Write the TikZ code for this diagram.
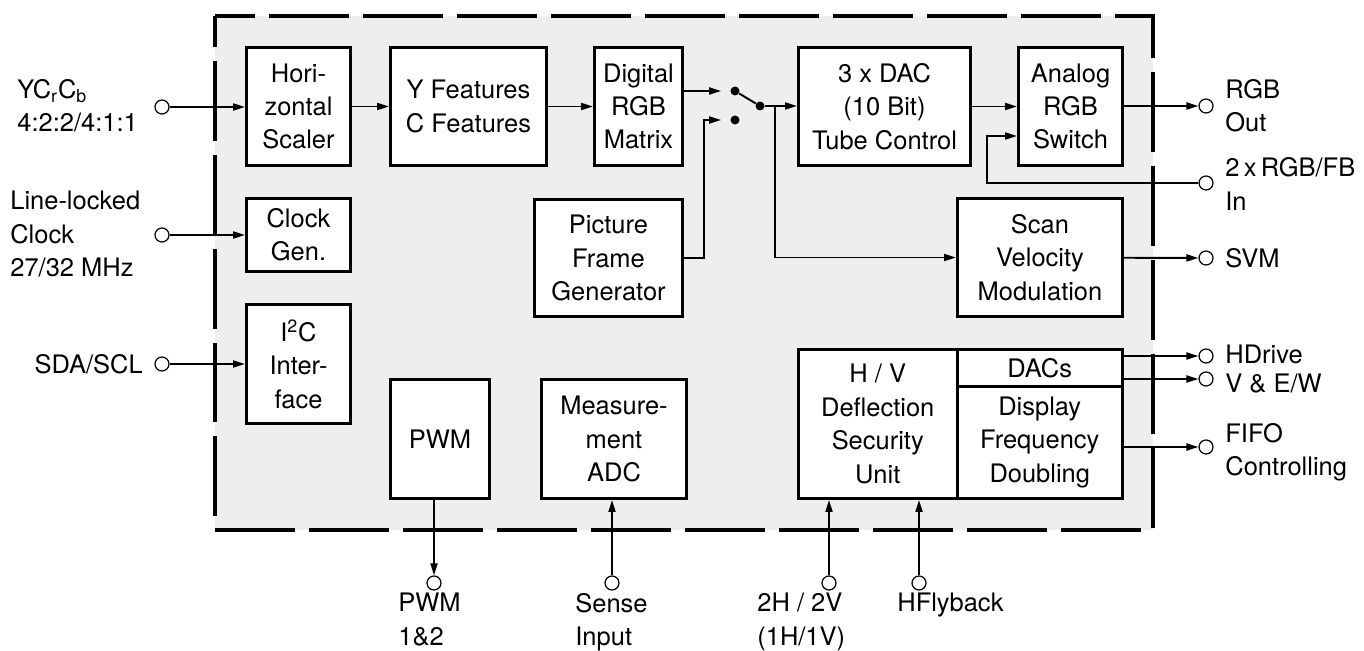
\documentclass[tikz,border=0pt]{standalone}
\usepackage{fontspec}
\setmainfont{TeX Gyre Heros}
\usetikzlibrary{arrows.meta}
\definecolor{chipgray}{HTML}{EEEEEE}

\begin{document}
\begin{tikzpicture}[x = 0.02cm, y = -0.02cm,
		font = \fontsize{14.5}{19}\selectfont,
		block/.style = {draw, line width = 1.7pt, fill = white, align = center, inner sep = 0pt},
		port/.style = {draw, circle, fill = white, line width = 0.7pt, minimum size = 0.28cm, inner sep = 0pt},
		swdot/.style = {circle, fill = black, minimum size = 0.18cm, inner sep = 0pt},
		wire/.style = {line width = 1.1pt, -{Triangle[length = 0.24cm, width = 0.14cm]}},
		pinname/.style = {align = left, inner sep = 0pt}]
					\useasboundingbox (0, 0) rectangle (1364, 651);

					\coordinate (c1) at (215, 16);
					\coordinate (c2) at (1153, 16);
					\coordinate (c3) at (1153, 530);
					\coordinate (c4) at (215, 530);

					\coordinate (brk) at (775, 106);
					\coordinate (pfgk) at (704, 120);
					\coordinate (fbk) at (987, 183);
					\coordinate (fbt) at (1017, 136);

					\fill [chipgray] (c1) rectangle (c3);
					\draw [line width = 2.3pt, dash pattern = on 1.6cm off 0.28cm, dash phase = 0.8cm] (c1) -- (c2) -- (c3) -- (c4) -- cycle;

					\node [block, minimum width = 2.08cm, minimum height = 2.36cm] (hsc) at (298.5, 106.5) {Hori-\\zontal\\Scaler};
					\node [block, minimum width = 3.12cm, minimum height = 2.36cm] (feat) at (468.5, 106.5) {Y Features\\C Features};
					\node [block, minimum width = 1.76cm, minimum height = 2.36cm] (rgbm) at (638.5, 106.5) {Digital\\RGB\\Matrix};
					\node [block, minimum width = 3.44cm, minimum height = 2.36cm] (dac) at (884.5, 106.5) {3 x DAC\\(10 Bit)\\Tube Control};
					\node [block, minimum width = 2.08cm, minimum height = 2.36cm] (asw) at (1070.5, 106.5) {Analog\\RGB\\Switch};
					\node [block, minimum width = 2.08cm, minimum height = 1.46cm] (clk) at (298.5, 235) {Clock\\Gen.};
					\node [block, minimum width = 2.96cm, minimum height = 2.34cm] (pfg) at (608.5, 258) {Picture\\Frame\\Generator};
					\node [block, minimum width = 3.30cm, minimum height = 2.36cm] (svm) at (1040, 257.5) {Scan\\Velocity\\Modulation};
					\node [block, minimum width = 2.08cm, minimum height = 2.38cm] (i2c) at (298.5, 364) {I\textsuperscript{2}C\\Inter-\\face};
					\node [block, minimum width = 1.98cm, minimum height = 2.38cm] (pwm) at (440, 439) {PWM};
					\node [block, minimum width = 2.90cm, minimum height = 2.38cm] (adc) at (614, 439) {Measure-\\ment\\ADC};
					\node [block, minimum width = 3.17cm, minimum height = 2.98cm] (hv) at (877.75, 424) {H / V\\Deflection\\Security\\Unit};
					\node [block, minimum width = 3.31cm, minimum height = 0.73cm] (dacs) at (1039.75, 367.75) {DACs};
					\node [block, minimum width = 3.31cm, minimum height = 2.25cm] (dfd) at (1039.75, 442.25) {Display\\Frequency\\Doubling};

					\node [swdot] (swa) at (735, 91) {};
					\node [swdot] (swb) at (735, 120) {};
					\node [swdot] (swp) at (760, 106) {};

					\node [port] (inYC) at (162, 107) {};
					\node [port] (inClk) at (162, 235) {};
					\node [port] (inI2C) at (162, 364) {};
					\node [port] (outRGB) at (1206, 106) {};
					\node [port] (inFB) at (1206, 183) {};
					\node [port] (outSVM) at (1206, 258) {};
					\node [port] (outHD) at (1206, 356) {};
					\node [port] (outVE) at (1206, 379) {};
					\node [port] (outFIFO) at (1206, 447) {};
					\node [port] (outPWM) at (434, 583) {};
					\node [port] (inSense) at (612, 583) {};
					\node [port] (inHV) at (829, 583) {};
					\node [port] (inFly) at (919, 583) {};

					\node [pinname, anchor = west] (tYC) at (17, 106) {YC\textsubscript{r}C\textsubscript{b}\\4:2:2/4:1:1};
					\node [pinname, anchor = west] (tClk) at (10, 234) {Line-locked\\Clock\\27/32 MHz};
					\node [pinname, anchor = east] (tI2C) at (143, 364) {SDA/SCL};
					\node [pinname, anchor = west] (tRGB) at (1225, 106) {RGB\\Out};
					\node [pinname, anchor = west] (tFB) at (1225, 184) {2\,x\,RGB/FB\\In};
					\node [pinname, anchor = west] (tSVM) at (1225, 258) {SVM};
					\node [pinname, anchor = west] (tHD) at (1225, 354) {HDrive};
					\node [pinname, anchor = west] (tVE) at (1225, 384) {V \& E/W};
					\node [pinname, anchor = west] (tFIFO) at (1225, 452) {FIFO\\Controlling};
					\node [pinname, anchor = north west] (tPWM) at (398, 593) {PWM\\1\&2};
					\node [pinname, anchor = north west] (tSense) at (575, 593) {Sense\\Input};
					\node [pinname, anchor = north west] (tHV) at (757, 593) {2H / 2V\\(1H/1V)};
					\node [pinname, anchor = north west] (tFly) at (897, 593) {HFlyback};

					\draw [wire] (inYC) -- (inYC -| hsc.west);
					\draw [wire] (inClk) -- (inClk -| clk.west);
					\draw [wire] (inI2C) -- (inI2C -| i2c.west);
					\draw [wire] (hsc) -- (feat);
					\draw [wire] (feat) -- (rgbm);
					\draw [wire, shorten > = 0.18cm] (rgbm.east |- swa) -- (swa);
					\draw [line width = 1.1pt] (swa) -- (swp);
					\draw [wire] (swp) -- (swp -| dac.west);
					\draw [wire] (brk) |- (svm);
					\draw [wire, shorten > = 0.18cm] (pfg) -| (pfgk) -- (swb);
					\draw [wire] (dac) -- (asw);
					\draw [wire] (asw.east |- outRGB) -- (outRGB);
					\draw [wire] (inFB) -- (fbk) |- (fbt);
					\draw [wire] (svm) -- (outSVM);
					\draw [wire] (dacs.east |- outHD) -- (outHD);
					\draw [wire] (dacs.east |- outVE) -- (outVE);
					\draw [wire] (dfd.east |- outFIFO) -- (outFIFO);
					\draw [wire] (pwm.south -| outPWM) -- (outPWM);
					\draw [wire] (inSense) -- (inSense |- adc.south);
					\draw [wire] (inHV) -- (inHV |- hv.south);
					\draw [wire] (inFly) -- (inFly |- hv.south);
\end{tikzpicture}
\end{document}
